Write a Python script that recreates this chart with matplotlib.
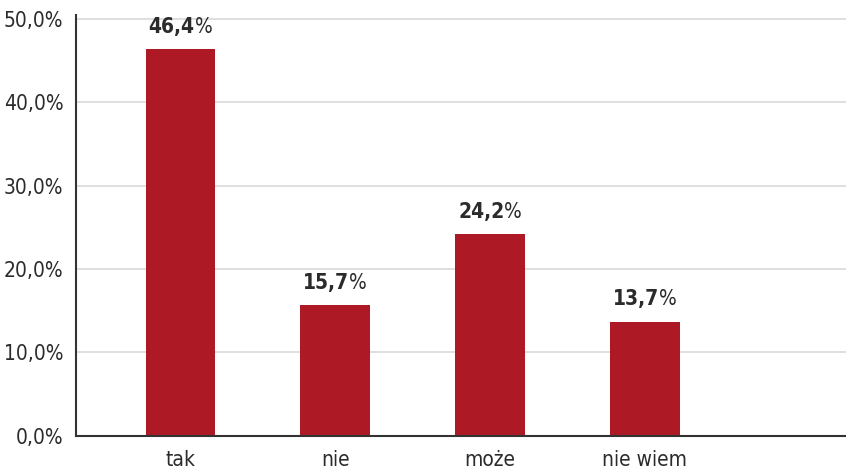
import matplotlib.pyplot as plt
from matplotlib.offsetbox import TextArea, HPacker, AnnotationBbox
from matplotlib.ticker import FuncFormatter

# Survey answers and their shares (%)
categories = ["tak", "nie", "może", "nie wiem"]
values = [46.4, 15.7, 24.2, 13.7]

BAR_COLOR = "#ad1a25"
TEXT_COLOR = "#2b2b2b"
FONT = dict(family="DejaVu Sans", stretch="condensed")

fig = plt.figure(figsize=(8.46, 4.75), dpi=100)
ax = fig.add_axes([76 / 846, 39.3 / 475, 1 - 76 / 846, 420.7 / 475])

x = range(len(categories))
ax.bar(x, values, width=0.45, color=BAR_COLOR, zorder=3)

# value labels: bold number followed by a regular percent sign
for xi, v in zip(x, values):
    num = TextArea(f"{v:.1f}".replace(".", ","),
                   textprops=dict(fontsize=15, fontweight="bold", color=TEXT_COLOR, **FONT))
    pct = TextArea("%", textprops=dict(fontsize=15, color=TEXT_COLOR, **FONT))
    box = HPacker(children=[num, pct], pad=0, sep=0, align="baseline")
    ab = AnnotationBbox(box, (xi, v), xybox=(0, 16), xycoords="data",
                        boxcoords="offset points", frameon=False, box_alignment=(0.5, 0.5))
    ax.add_artist(ab)

ax.set_xlim(-0.675, 4.30)
ax.set_ylim(0, 50.5)
ax.set_yticks([0, 10, 20, 30, 40, 50])
ax.yaxis.set_major_formatter(FuncFormatter(lambda v, _: f"{v:.1f}%".replace(".", ",")))
ax.set_xticks(list(x))
ax.set_xticklabels(categories)

ax.grid(axis="y", color="#d9d9d9", linewidth=1.2, zorder=0)
ax.tick_params(axis="both", length=0, labelsize=15, labelcolor=TEXT_COLOR)
ax.tick_params(axis="y", pad=9)
ax.tick_params(axis="x", pad=10)
for lab in ax.get_xticklabels() + ax.get_yticklabels():
    lab.set_family(FONT["family"])
    lab.set_stretch(FONT["stretch"])

for side in ["top", "right"]:
    ax.spines[side].set_visible(False)
for side in ["left", "bottom"]:
    ax.spines[side].set_color("#333333")
    ax.spines[side].set_linewidth(1.5)
    ax.spines[side].set_zorder(4)

fig.savefig("out.png", dpi=100)
